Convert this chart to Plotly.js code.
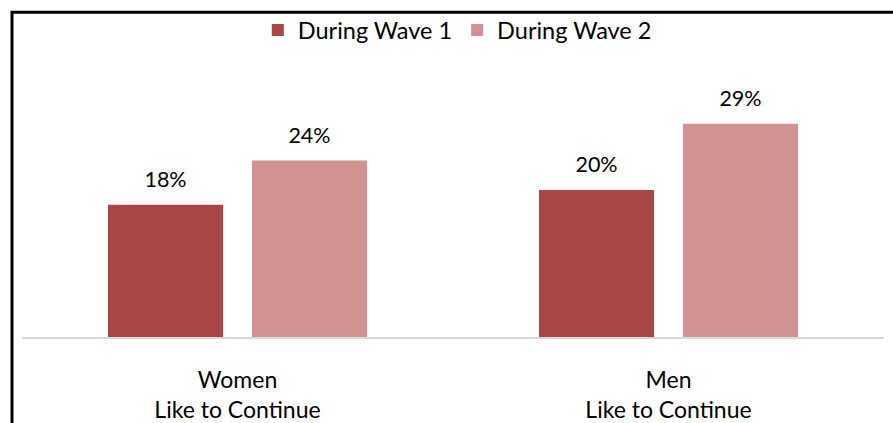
<!DOCTYPE html>
<html>
<head>
<meta charset="utf-8">
<script src="https://cdn.plot.ly/plotly-3.0.1.min.js"></script>
<style>html,body{margin:0;padding:0;background:#fff;}#chart{width:893px;height:423px;}</style>
</head>
<body>
<div id="chart"></div>
<script>
const categories = ["Women<br>Like to Continue", "Men<br>Like to Continue"];
const seriesNames = ["During Wave 1", "During Wave 2"];
const wave1 = [18, 20];
const wave2 = [24, 29];
const colors = ["#A94646", "#D29291"];

const FONT = "Lato, 'Open Sans', sans-serif";
const series = [wave1, wave2];

const traces = [];
series.forEach((vals, i) => {
  traces.push({
    type: "bar", name: seriesNames[i], x: categories, y: vals,
    marker: {color: colors[i]}, hoverinfo: "skip"
  });
});
series.forEach((vals, i) => {
  traces.push({
    type: "scatter", mode: "markers+text", x: categories, y: vals,
    text: vals.map(v => v + "%"), textposition: "top center",
    textfont: {family: FONT, size: 21.5, color: "#000"},
    marker: {size: 18, color: "rgba(0,0,0,0)"},
    showlegend: false, hoverinfo: "skip", cliponaxis: false
  });
});

const layout = {
  width: 893, height: 423,
  margin: {l: 22, r: 9, t: 42, b: 86},
  paper_bgcolor: "#fff", plot_bgcolor: "#fff",
  barmode: "group", bargap: 0.332, bargroupgap: 0.2,
  scattermode: "group", scattergap: 0.332,
  font: {family: FONT, size: 23, color: "#000"},
  showlegend: true,
  legend: {orientation: "h", x: 0.505, xanchor: "center", y: 1.04, yanchor: "middle",
           bgcolor: "rgba(0,0,0,0)",
           font: {family: FONT, size: 23.5, color: "#000"}, traceorder: "normal", itemclick: false},
  xaxis: {type: "category", showline: true, linecolor: "#D9D9D9", linewidth: 1.5,
          ticks: "", showgrid: false, zeroline: false, range: [-0.5, 1.5],
          tickfont: {family: FONT, size: 23, color: "#000"}, ticklabelstandoff: 22},
  yaxis: {range: [0, 40], visible: false, showgrid: false, zeroline: false},
  shapes: [{type: "rect", xref: "paper", yref: "paper",
            x0: -0.0116, x1: 1.2, y0: -0.6, y1: 1.105,
            line: {color: "#000", width: 3}, fillcolor: "rgba(0,0,0,0)", layer: "above"}]
};

Plotly.newPlot("chart", traces, layout, {staticPlot: true, displayModeBar: false});
</script>
</body>
</html>
